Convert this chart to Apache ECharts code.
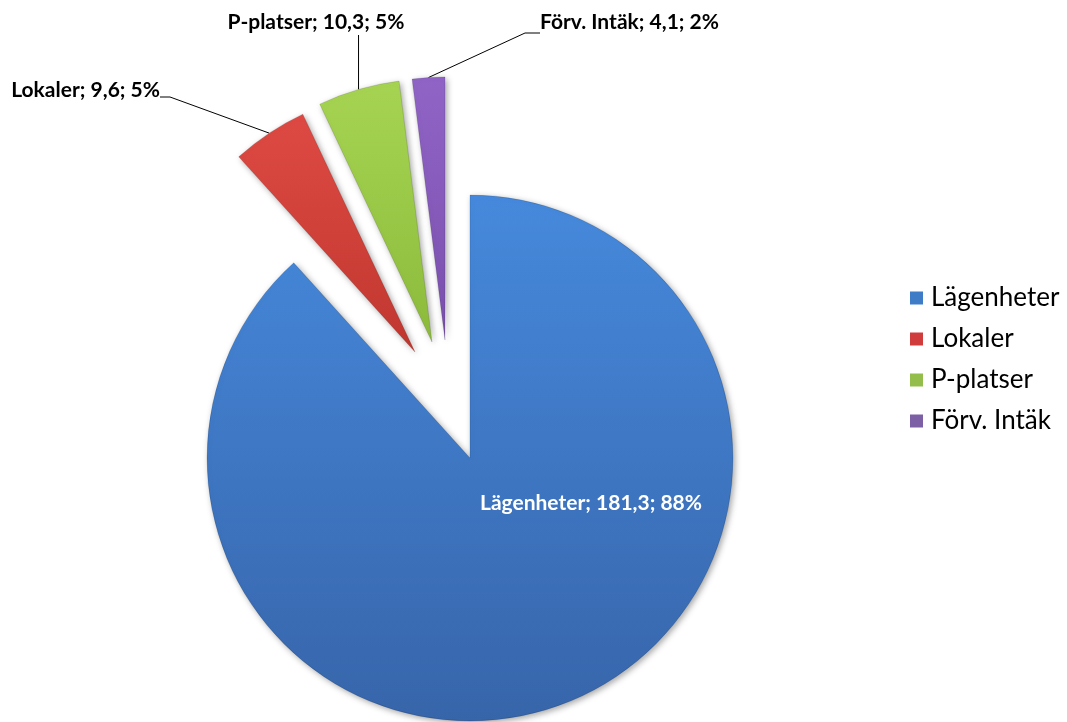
<!DOCTYPE html>
<html>
<head>
<meta charset="utf-8">
<script src="https://cdn.jsdelivr.net/npm/echarts@6/dist/echarts.min.js"></script>
<style>
html,body{margin:0;padding:0;background:#fff;}
#chart{width:1067px;height:722px;}
</style>
</head>
<body>
<div id="chart"></div>
<script>
// ---- data ----
const categories = ['Lägenheter', 'Lokaler', 'P-platser', 'Förv. Intäk'];
const values = [181.3, 9.6, 10.3, 4.1];

// ---- styling / layout ----
const topColors = ['#4689dc', '#de4a43', '#a6d452', '#9064c6'];
const bottomColors = ['#3765aa', '#c0372f', '#8cbb3c', '#7a50ad'];
const legendColors = ['#3f7cc8', '#d03c3c', '#94be4c', '#7d5fa5'];
// each slice drawn as its own pie so every slice can be exploded independently
const centers = [[470, 458], [415, 352], [432, 342], [445, 340]];
const radius = 263;
const labelFont = 'Lato, "Open Sans", sans-serif';

// label placements (layout only)
const labelPlacement = [
  { x: 591, y: 503, align: 'center', color: '#ffffff' },
  { x: 160, y: 90, align: 'right', color: '#000000', bend: [170, 97], end: [160, 97] },
  { x: 316, y: 22, align: 'center', color: '#000000', vertical: 35 },
  { x: 540, y: 22, align: 'left', color: '#000000', bend: [525, 33], end: [540, 33] }
];

function fmtNum(v) { return String(v).replace('.', ','); }

function grad(i) {
  return new echarts.graphic.LinearGradient(0, 0, 0, 1, [
    { offset: 0, color: topColors[i] },
    { offset: 1, color: bottomColors[i] }
  ]);
}

const series = categories.map(function (_, s) {
  return {
    type: 'pie',
    center: centers[s],
    radius: radius,
    startAngle: 90,
    clockwise: true,
    silent: true,
    animation: false,
    avoidLabelOverlap: false,
    emphasis: { disabled: true },
    label: {
      show: true,
      position: s === 0 ? 'inside' : 'outside',
      fontFamily: labelFont,
      fontWeight: 'bold',
      fontSize: 21,
      color: labelPlacement[s].color,
      formatter: function (p) {
        return p.name + '; ' + fmtNum(p.value) + '; ' + Math.round(p.percent) + '%';
      }
    },
    labelLine: { show: s !== 0, lineStyle: { color: '#000', width: 1 }, length: 10, length2: 10 },
    labelLayout: function (p) {
      if (p.dataIndex !== s) return {};
      const lp = labelPlacement[s];
      const out = { x: lp.x, y: lp.y, align: lp.align, verticalAlign: 'middle' };
      if (s !== 0 && p.labelLinePoints) {
        const a = p.labelLinePoints[0];
        if (lp.vertical != null) {
          out.labelLinePoints = [[a[0], a[1]], [a[0], lp.vertical], [a[0], lp.vertical]];
        } else {
          out.labelLinePoints = [[a[0], a[1]], lp.bend, lp.end];
        }
      }
      return out;
    },
    data: categories.map(function (name, i) {
      if (i === s) {
        return {
          name: name,
          value: values[i],
          itemStyle: {
            color: grad(i),
            shadowBlur: 6,
            shadowColor: 'rgba(0,0,0,0.35)',
            shadowOffsetX: 2,
            shadowOffsetY: 2,
            borderColor: 'rgba(0,0,0,0.12)',
            borderWidth: 1
          }
        };
      }
      return {
        name: name,
        value: values[i],
        itemStyle: { color: 'rgba(0,0,0,0)', borderWidth: 0 },
        label: { show: false },
        labelLine: { show: false }
      };
    })
  };
});

const chart = echarts.init(document.getElementById('chart'), null, { renderer: 'canvas' });
chart.setOption({
  backgroundColor: '#ffffff',
  legend: {
    orient: 'vertical',
    left: 905,
    top: 280,
    icon: 'rect',
    itemWidth: 13,
    itemHeight: 13,
    itemGap: 15,
    selectedMode: false,
    textStyle: { fontFamily: labelFont, fontSize: 26, color: '#000', padding: [0, 0, 0, 3] },
    data: categories.map(function (name, i) {
      return { name: name, itemStyle: { color: legendColors[i], borderWidth: 0, shadowBlur: 0 } };
    })
  },
  series: series
});
</script>
</body>
</html>
